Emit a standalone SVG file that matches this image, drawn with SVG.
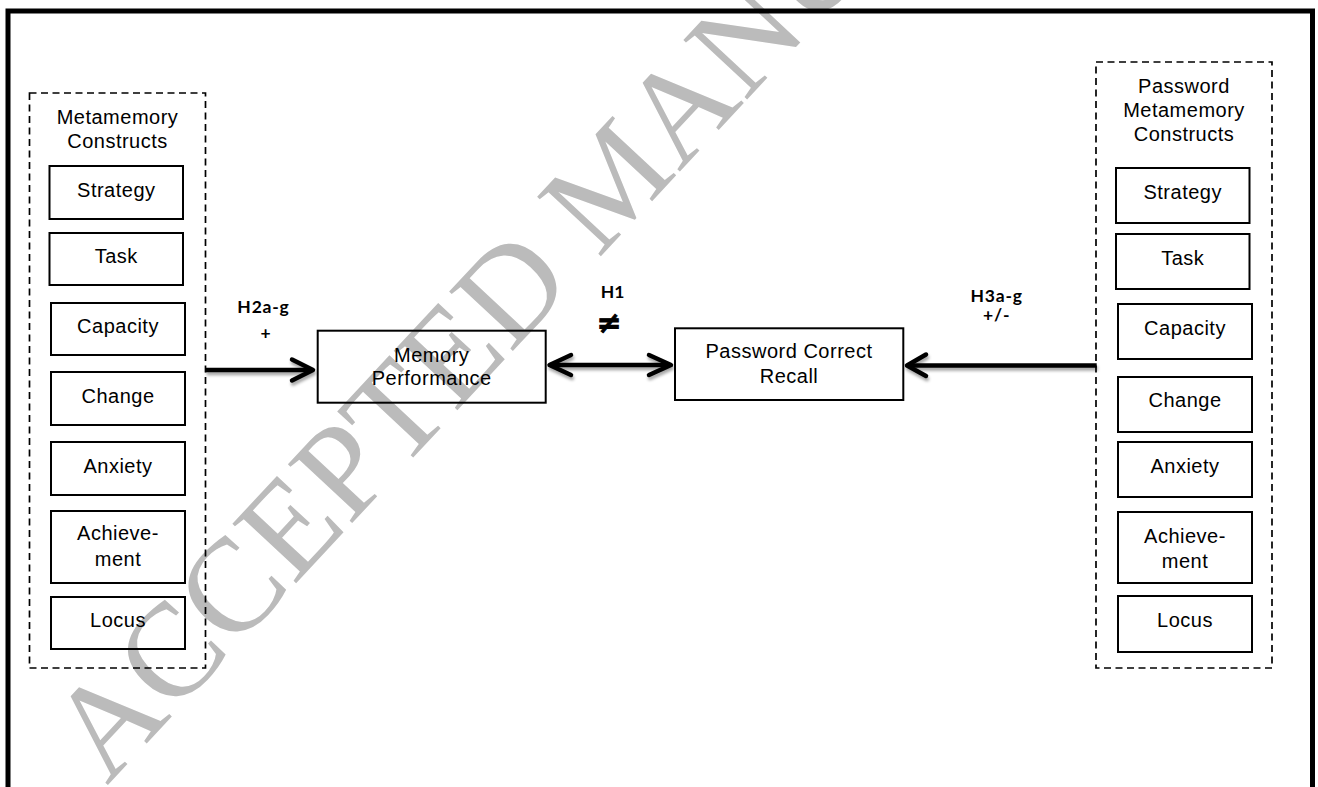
<svg xmlns="http://www.w3.org/2000/svg" width="1318" height="787" viewBox="0 0 1318 787">
<defs>
<style>
.wm{font-family:"Liberation Serif","Times New Roman",serif;font-size:133px;fill:#bbbbbb}
.t{font-family:"Liberation Sans",Arial,sans-serif;font-size:20px;letter-spacing:0.5px;fill:#000;text-anchor:middle}
.b{font-family:Lato,"Liberation Sans",sans-serif;font-weight:bold;font-size:17.5px;fill:#000;text-anchor:middle}
.w{letter-spacing:0.8px}
.neq{font-family:"DejaVu Sans",sans-serif;font-weight:bold;font-size:30px;fill:#000;stroke:#000;stroke-width:0.8;text-anchor:middle}
.box{fill:none;stroke:#000;stroke-width:2}
.grp{fill:none;stroke:#000;stroke-width:1.7;stroke-dasharray:7 4.5}
.frame{fill:none;stroke:#000;stroke-width:5}
.ln{fill:none;stroke:#000;stroke-width:4.5;stroke-linecap:butt}
.hd{fill:none;stroke:#000;stroke-width:4.5;stroke-linecap:round;stroke-linejoin:round}
</style>
<filter id="sh" x="-10%" y="-50%" width="120%" height="250%">
<feDropShadow dx="1" dy="3" stdDeviation="1.5" flood-color="#000" flood-opacity="0.35"/>
</filter>
</defs>
<rect width="1318" height="787" fill="#fff"/>
<text class="wm" transform="translate(107,786) rotate(-47)">ACCEPTED MANUSCRIPT</text>
<rect class="frame" x="8" y="11" width="1304.5" height="900"/>

<g id="left-group">
<rect class="grp" x="29.5" y="93" width="176" height="575"/>
<text class="t" x="117.5" y="124">Metamemory</text>
<text class="t" x="117.5" y="147.5">Constructs</text>
</g>
<g id="l-strategy"><rect class="box" x="49.5" y="166" width="133.5" height="53"/><text class="t" x="116.3" y="197">Strategy</text></g>
<g id="l-task"><rect class="box" x="49.5" y="233" width="133.5" height="52"/><text class="t" x="116.3" y="262.7">Task</text></g>
<g id="l-capacity"><rect class="box" x="51" y="303" width="134" height="52"/><text class="t" x="118" y="333.3">Capacity</text></g>
<g id="l-change"><rect class="box" x="51" y="372" width="134" height="53"/><text class="t" x="118" y="403.3">Change</text></g>
<g id="l-anxiety"><rect class="box" x="51" y="442" width="134" height="53"/><text class="t" x="118" y="473.3">Anxiety</text></g>
<g id="l-achievement"><rect class="box" x="51" y="511" width="134" height="72"/><text class="t" x="118" y="540">Achieve-</text><text class="t" x="118" y="565.7">ment</text></g>
<g id="l-locus"><rect class="box" x="51" y="597" width="134" height="52"/><text class="t" x="118" y="626.7">Locus</text></g>

<g id="right-group">
<rect class="grp" x="1096" y="62" width="176" height="606"/>
<text class="t" x="1184" y="93.3">Password</text>
<text class="t" x="1184" y="116.7">Metamemory</text>
<text class="t" x="1184" y="140.7">Constructs</text>
</g>
<g id="r-strategy"><rect class="box" x="1116" y="168" width="133.5" height="55"/><text class="t" x="1182.7" y="199.3">Strategy</text></g>
<g id="r-task"><rect class="box" x="1116" y="234" width="133.5" height="55"/><text class="t" x="1182.7" y="265">Task</text></g>
<g id="r-capacity"><rect class="box" x="1118" y="304" width="134" height="55"/><text class="t" x="1185" y="335">Capacity</text></g>
<g id="r-change"><rect class="box" x="1118" y="377" width="134" height="55"/><text class="t" x="1185" y="406.7">Change</text></g>
<g id="r-anxiety"><rect class="box" x="1118" y="442" width="134" height="55"/><text class="t" x="1185" y="473.3">Anxiety</text></g>
<g id="r-achievement"><rect class="box" x="1118" y="512" width="134" height="71"/><text class="t" x="1185" y="543.3">Achieve-</text><text class="t" x="1185" y="568.3">ment</text></g>
<g id="r-locus"><rect class="box" x="1118" y="596" width="134" height="56"/><text class="t" x="1185" y="626.7">Locus</text></g>

<g id="memory-performance"><rect class="box" x="317.7" y="330.7" width="228" height="72"/><text class="t" x="431.7" y="361.7">Memory</text><text class="t" x="431.7" y="385">Performance</text></g>
<g id="password-recall"><rect class="box" x="675" y="328.3" width="228.3" height="71.7"/><text class="t" x="789" y="358.3">Password Correct</text><text class="t" x="789" y="383.3">Recall</text></g>

<g id="connectors">
<g filter="url(#sh)">
<line class="ln" x1="205.5" y1="370" x2="312" y2="370"/>
<polyline class="hd" points="292,359.5 313,370 292,380.5"/>
</g>
<g filter="url(#sh)">
<line class="ln" x1="550" y1="365" x2="670" y2="365"/>
<polyline class="hd" points="571,355 549.5,365 571,375"/>
<polyline class="hd" points="649,355 671,365 649,375"/>
</g>
<g filter="url(#sh)">
<line class="ln" x1="1096.7" y1="365.5" x2="908" y2="365.5"/>
<polyline class="hd" points="926,354.5 907,365.5 926,376"/>
</g>
<text class="b w" x="263.5" y="313.3">H2a-g</text>
<text class="b" x="265.5" y="339">+</text>
<text class="b" x="612.5" y="298.3">H1</text>
<text class="neq" x="609" y="333">≠</text>
<text class="b w" x="996.7" y="301.7">H3a-g</text>
<text class="b w" x="996.7" y="321">+/-</text>
</g>
</svg>
